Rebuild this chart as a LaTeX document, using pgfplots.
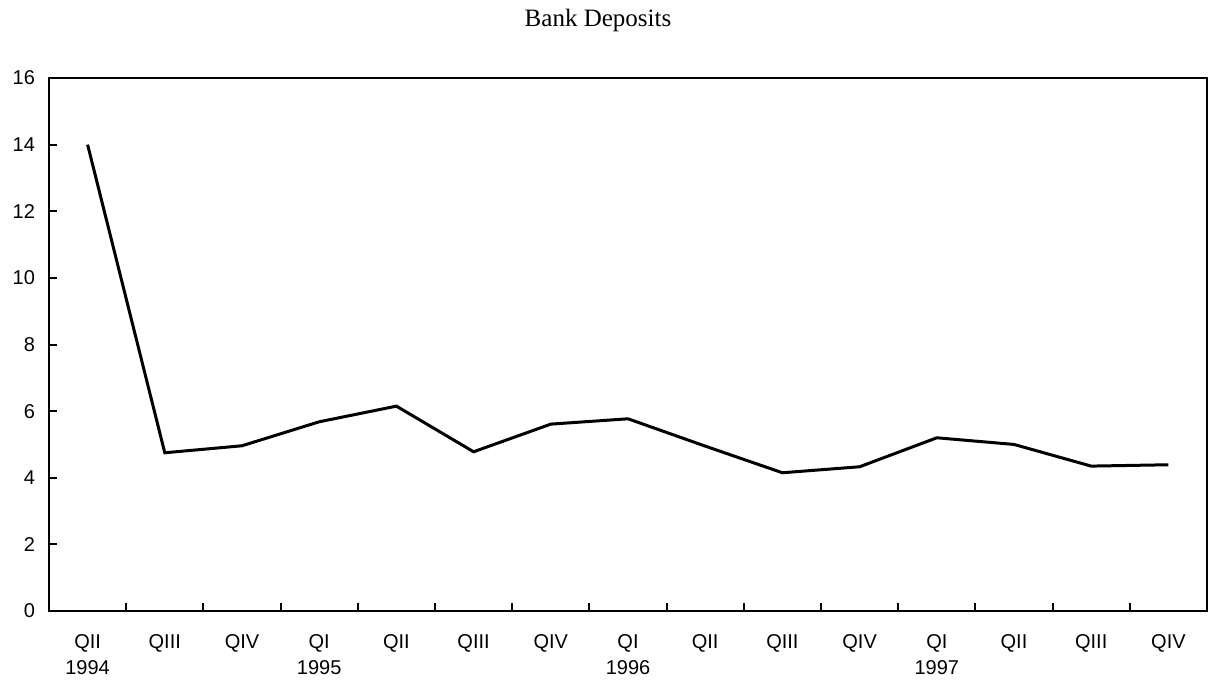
\documentclass[border=0pt]{standalone}
\usepackage{fontspec}
\setmainfont{Liberation Sans}
\newfontfamily\titlefont{Liberation Serif}
\usepackage{pgfplots}
\pgfplotsset{compat=1.18}
\begin{document}
\begin{tikzpicture}
\begin{axis}[
    scale only axis,
    width=579pt, height=266.5pt,
    xmin=-0.5, xmax=14.5,
    ymin=0, ymax=16,
    ytick={0,2,...,16},
    xtick={0,...,14},
    xticklabels={QII\\1994,QIII,QIV,QI\\1995,QII,QIII,QIV,QI\\1996,QII,QIII,QIV,QI\\1997,QII,QIII,QIV},
    minor xtick={0.5,1.5,...,13.5},
    major x tick style={draw=none},
    tick align=inside,
    xtick pos=bottom, ytick pos=left,
    major tick length=4pt, minor tick length=4pt,
    tick style={black, line width=1pt},
    axis line style={line width=1pt},
    tick label style={font=\fontsize{10}{13}\selectfont},
    /pgf/number format/assume math mode=true,
    xticklabel style={align=center, anchor=north, yshift=-8pt},
    yticklabel style={xshift=-3.5pt},
]
\addplot[black, line width=1.5pt] coordinates {
    (0,14.0) (1,4.75) (2,4.96) (3,5.68) (4,6.15) (5,4.78) (6,5.61) (7,5.77)
    (8,4.95) (9,4.15) (10,4.33) (11,5.2) (12,5.0) (13,4.35) (14,4.39)
};
\end{axis}
\node[font=\titlefont\fontsize{12.5}{15}\selectfont] at ([xshift=-15pt, yshift=29pt]current axis.north) {Bank Deposits};
\path ([xshift=-24.5pt, yshift=-35pt]current axis.south west) rectangle ([xshift=2.5pt, yshift=39pt]current axis.north east);
\end{tikzpicture}
\end{document}
